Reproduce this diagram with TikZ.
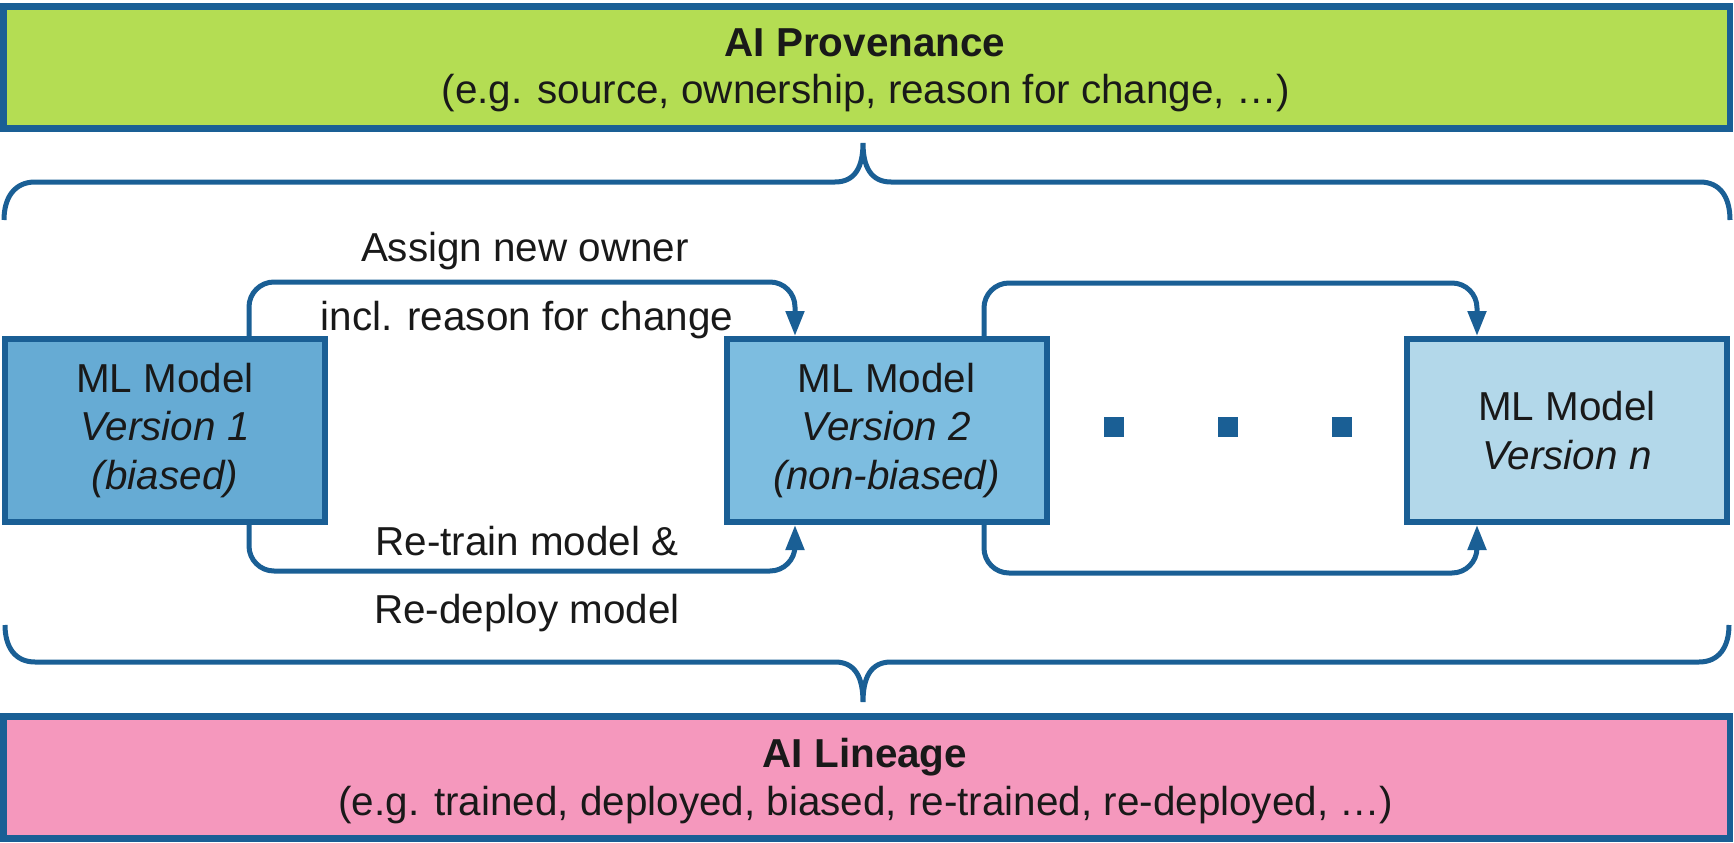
\documentclass[tikz,border=0pt]{standalone}
\usepackage{fontspec}
\setmainfont{Liberation Sans}
\usepackage{tikz}
\usetikzlibrary{arrows.meta}

\definecolor{lineblue}{HTML}{1A5F95}
\definecolor{provgreen}{HTML}{B4DD53}
\definecolor{linpink}{HTML}{F598BD}
\definecolor{modelA}{HTML}{66ABD4}
\definecolor{modelB}{HTML}{7DBDE0}
\definecolor{modelC}{HTML}{B3D8EA}

\tikzset{
  txt/.style={font=\fontsize{11.5}{13.9}\selectfont, inner sep=0pt, text=black!90},
  band/.style={draw=lineblue, line width=0.065cm, minimum width=17.265cm, minimum height=1.22cm, inner sep=0pt},
  mlbox/.style={txt, draw=lineblue, line width=0.06cm, minimum width=3.2cm, minimum height=1.83cm, align=center},
  flow/.style={draw=lineblue, line width=0.05cm, rounded corners=0.25cm, -{Triangle[length=0.25cm,width=0.18cm]}},
  brace/.style={draw=lineblue, line width=0.05cm},
  dot/.style={fill=lineblue, minimum size=0.2cm, inner sep=0pt}
}

\begin{document}
\begin{tikzpicture}
\useasboundingbox (0,0) rectangle (17.34,8.42);

%provenance zgoraj
\node[band, fill=provgreen] (prov) at (8.6675,7.745) {};
\node[txt, anchor=base, font=\fontsize{11.5}{13.9}\selectfont\bfseries] (provtitle) at (8.65,7.85) {AI Provenance};
\node[txt, anchor=base] (provtext) at (8.66,7.38) {(e.g. source, ownership, reason for change, …)};

%lineage spodaj
\node[band, fill=linpink] (lin) at (8.6675,0.6475) {};
\node[txt, anchor=base, font=\fontsize{11.5}{13.9}\selectfont\bfseries] (lintitle) at (8.65,0.75) {AI Lineage};
\node[txt, anchor=base] (lintext) at (8.66,0.27) {(e.g. trained, deployed, biased, re-trained, re-deployed, …)};

%oklepaja
\draw[brace] (0.04,6.22) .. controls (0.04,6.45) and (0.15,6.60) .. (0.35,6.60) -- (8.35,6.60) .. controls (8.55,6.60) and (8.63,6.75) .. (8.63,6.99) .. controls (8.63,6.75) and (8.71,6.60) .. (8.91,6.60) -- (17.00,6.60) .. controls (17.20,6.60) and (17.30,6.45) .. (17.30,6.22);
\draw[brace] (0.05,2.17) .. controls (0.05,1.95) and (0.15,1.80) .. (0.35,1.80) -- (8.35,1.80) .. controls (8.55,1.80) and (8.63,1.65) .. (8.63,1.40) .. controls (8.63,1.65) and (8.71,1.80) .. (8.91,1.80) -- (16.99,1.80) .. controls (17.19,1.80) and (17.29,1.95) .. (17.29,2.17);

%modeli
\node[mlbox, fill=modelA] (m1) at (1.65,4.115) {ML Model\\\itshape Version 1\\\itshape (biased)};
\node[mlbox, fill=modelB] (m2) at (8.865,4.115) {ML Model\\\itshape Version 2\\\itshape (non-biased)};
\node[mlbox, fill=modelC] (mn) at (15.67,4.115) {ML Model\\\itshape Version n};

%pike
\node[dot] (d1) at (11.14,4.15) {};
\node[dot] (d2) at (12.28,4.15) {};
\node[dot] (d3) at (13.42,4.15) {};

%povezave
\draw[flow] ([xshift=0.84cm]m1.north) -- ++(0,0.54) -| ([xshift=-0.915cm]m2.north);
\draw[flow] ([xshift=0.84cm]m1.south) -- ++(0,-0.46) -| ([xshift=-0.915cm]m2.south);
\draw[flow] ([xshift=0.975cm]m2.north) -- ++(0,0.53) -| ([xshift=-0.9cm]mn.north);
\draw[flow] ([xshift=0.975cm]m2.south) -- ++(0,-0.48) -| ([xshift=-0.9cm]mn.south);

%oznake
\node[txt, anchor=base] (own) at (5.25,5.81) {Assign new owner};
\node[txt, anchor=base] (reason) at (5.27,5.12) {incl. reason for change};
\node[txt, anchor=base] (retrain) at (5.27,2.87) {Re-train model \&};
\node[txt, anchor=base] (redeploy) at (5.27,2.19) {Re-deploy model};

\end{tikzpicture}
\end{document}
